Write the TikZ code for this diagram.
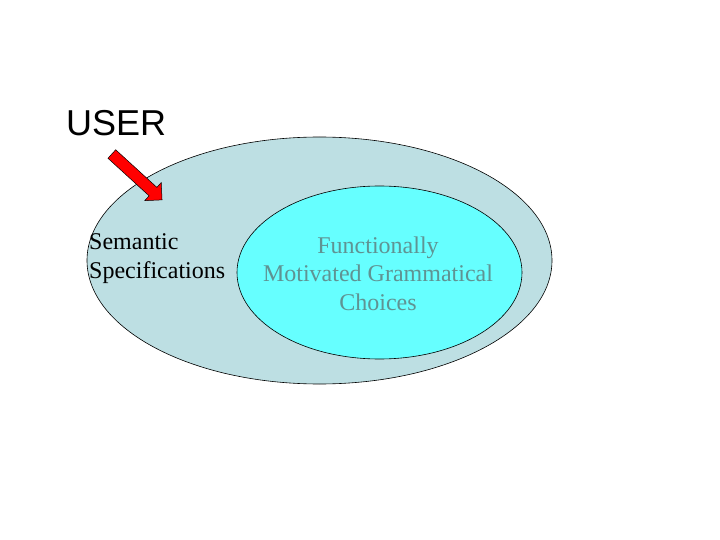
\documentclass[tikz,border=0pt]{standalone}
\usepackage{fontspec}
\setmainfont{Liberation Serif}
\newfontfamily\userfont{Liberation Sans}
\usepackage{tikz}
\usetikzlibrary{shapes.geometric,shapes.arrows}
\definecolor{outerblue}{HTML}{BDDFE3}
\definecolor{innercyan}{HTML}{66FFFF}
\definecolor{innertext}{HTML}{5F9393}

\begin{document}
\begin{tikzpicture}[
        x=1pt, y=-1pt,
        blob/.style={ellipse, draw=black, line width=0.6pt, inner sep=0pt},
        label/.style={inner sep=0pt, font=\fontsize{24}{28.5}\selectfont}
    ]
    \useasboundingbox (0,0) rectangle (720,540);
    \node[blob, fill=outerblue, minimum width=465, minimum height=247] (spec) at (319.5,260.5) {};
    \node[blob, fill=innercyan, minimum width=285, minimum height=173] (choices) at (379.5,272.5) {};
    \node[label, anchor=base west, align=left] (spectext) at (89,278) {Semantic\\Specifications};
    \node[label, anchor=base, align=center, text=innertext] (choicetext) at (378,310)
        {Functionally\\Motivated Grammatical\\Choices};
    \node[inner sep=0pt, anchor=base west, font=\userfont\fontsize{36}{40}\selectfont] (user) at (66,136) {USER};
    \node[single arrow, draw=black, line width=0.5pt, fill=red, inner sep=5.5pt,
          minimum height=68, single arrow head extend=6.5pt, rotate=-42.4] (userarrow) at (134.8,175) {};
\end{tikzpicture}
\end{document}
